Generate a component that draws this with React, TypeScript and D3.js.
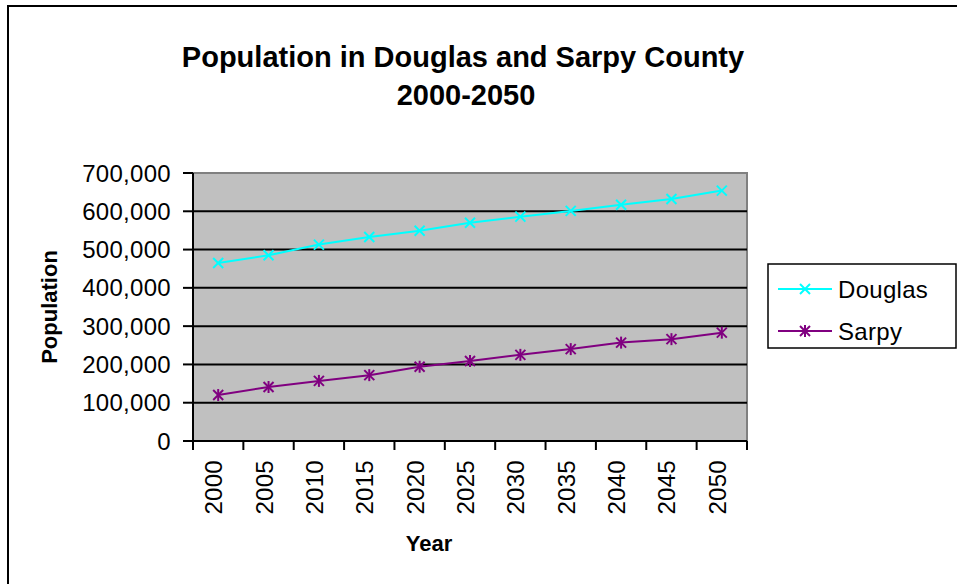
import React from "react";
import * as d3 from "d3";

const years = ["2000", "2005", "2010", "2015", "2020", "2025", "2030", "2035", "2040", "2045", "2050"];
const douglas = [465000, 485000, 513000, 533000, 549000, 570000, 586000, 601000, 617000, 632000, 654000];
const sarpy = [120000, 141000, 157000, 172000, 194000, 209000, 225000, 240000, 257000, 266000, 283000];
const yTicks = [0, 100000, 200000, 300000, 400000, 500000, 600000, 700000];
const titleLines = ["Population in Douglas and Sarpy County", "2000-2050"];

const W = 957;
const H = 584;
const plot = { left: 193, top: 173, right: 747, bottom: 441 };
const FONT = "'Liberation Sans', Arial, sans-serif";
const CYAN = "#00FFFF";
const PURPLE = "#800080";

export default function App() {
  const x = d3.scaleBand<string>().domain(years).range([plot.left, plot.right]).padding(0);
  const y = d3.scaleLinear().domain([0, 700000]).range([plot.bottom, plot.top]);
  const cx = (yr: string) => (x(yr) as number) + x.bandwidth() / 2;
  const line = d3
    .line<number>()
    .x((_, i) => cx(years[i]))
    .y((v) => y(v));
  const fmt = d3.format(",");
  const m = 5;

  const xMark = (px: number, py: number, color: string, key: string) => (
    <g key={key} stroke={color} strokeWidth={2}>
      <line x1={px - m} y1={py - m} x2={px + m} y2={py + m} />
      <line x1={px - m} y1={py + m} x2={px + m} y2={py - m} />
    </g>
  );
  const starMark = (px: number, py: number, color: string, key: string) => (
    <g key={key} stroke={color} strokeWidth={2}>
      <line x1={px - m} y1={py - m} x2={px + m} y2={py + m} />
      <line x1={px - m} y1={py + m} x2={px + m} y2={py - m} />
      <line x1={px} y1={py - m - 1} x2={px} y2={py + m + 1} />
    </g>
  );

  const boundaries = years.map((yr) => x(yr) as number).concat([plot.right]);

  return (
    <svg
      width={W}
      height={H}
      style={{ position: "absolute", left: 0, top: 0, background: "#fff" }}
      fontFamily={FONT}
    >
      <rect x={0} y={0} width={W} height={H} fill="#fff" />
      {/* outer frame */}
      <rect x={8} y={6} width={W + 20} height={H + 20} fill="none" stroke="#000" strokeWidth={2} />

      {/* title */}
      <text x={463} y={67} textAnchor="middle" fontSize={29} fontWeight="bold">
        {titleLines[0]}
      </text>
      <text x={466} y={105} textAnchor="middle" fontSize={29} fontWeight="bold">
        {titleLines[1]}
      </text>

      {/* plot area */}
      <rect
        x={plot.left}
        y={plot.top}
        width={plot.right - plot.left}
        height={plot.bottom - plot.top}
        fill="#C0C0C0"
        stroke="#808080"
        strokeWidth={2}
      />
      {/* gridlines */}
      {yTicks.slice(1, -1).map((t) => (
        <line key={t} x1={plot.left} x2={plot.right} y1={y(t)} y2={y(t)} stroke="#000" strokeWidth={2} />
      ))}

      {/* y axis */}
      <line x1={plot.left} x2={plot.left} y1={plot.top} y2={plot.bottom} stroke="#000" strokeWidth={2} />
      {yTicks.map((t) => (
        <g key={t}>
          <line x1={plot.left - 10} x2={plot.left} y1={y(t)} y2={y(t)} stroke="#000" strokeWidth={2} />
          <text x={171} y={y(t)} dy="0.36em" textAnchor="end" fontSize={24} letterSpacing={0.3}>
            {fmt(t)}
          </text>
        </g>
      ))}

      {/* x axis */}
      <line x1={plot.left} x2={plot.right} y1={plot.bottom} y2={plot.bottom} stroke="#000" strokeWidth={2} />
      {boundaries.map((b, i) => (
        <line key={i} x1={b} x2={b} y1={plot.bottom} y2={plot.bottom + 9} stroke="#000" strokeWidth={2} />
      ))}
      {years.map((yr) => (
        <text
          key={yr}
          transform={`translate(${cx(yr) + 4},460) rotate(-90)`}
          textAnchor="end"
          fontSize={24}
          letterSpacing={0.3}
        >
          {yr}
        </text>
      ))}

      {/* axis titles */}
      <text x={429} y={551} textAnchor="middle" fontSize={22} fontWeight="bold">
        Year
      </text>
      <text
        transform={`translate(57,${(plot.top + plot.bottom) / 2}) rotate(-90)`}
        textAnchor="middle"
        fontSize={22}
        fontWeight="bold"
      >
        Population
      </text>

      {/* series */}
      <path d={line(douglas) || ""} fill="none" stroke={CYAN} strokeWidth={2} />
      {douglas.map((v, i) => xMark(cx(years[i]), y(v), CYAN, "d" + i))}
      <path d={line(sarpy) || ""} fill="none" stroke={PURPLE} strokeWidth={2} />
      {sarpy.map((v, i) => starMark(cx(years[i]), y(v), PURPLE, "s" + i))}

      {/* legend */}
      <rect x={768} y={264} width={188} height={84} fill="#fff" stroke="#000" strokeWidth={1.5} />
      <line x1={778} x2={832} y1={289} y2={289} stroke={CYAN} strokeWidth={2} />
      {xMark(805, 289, CYAN, "ld")}
      <text x={838} y={289} dy="0.36em" fontSize={24} letterSpacing={0.3}>
        Douglas
      </text>
      <line x1={778} x2={832} y1={331} y2={331} stroke={PURPLE} strokeWidth={2} />
      {starMark(805, 331, PURPLE, "ls")}
      <text x={838} y={331} dy="0.36em" fontSize={24} letterSpacing={0.3}>
        Sarpy
      </text>
    </svg>
  );
}
